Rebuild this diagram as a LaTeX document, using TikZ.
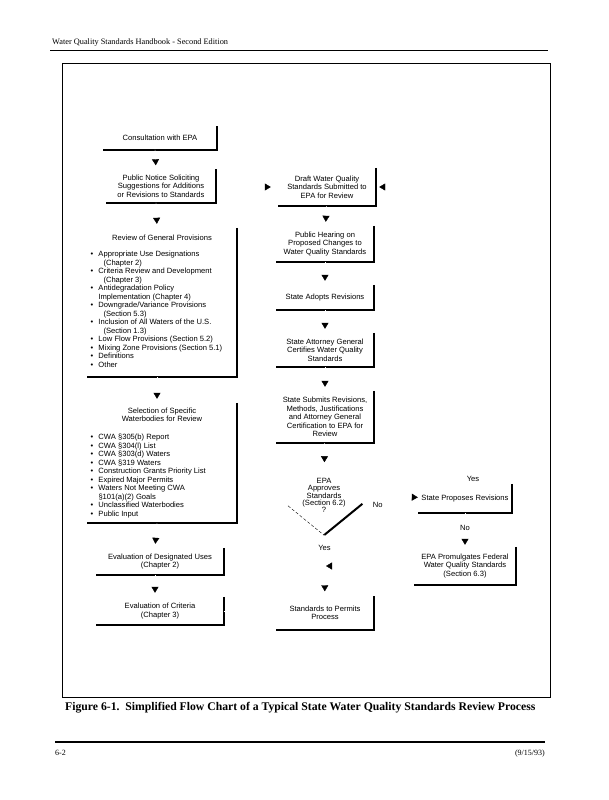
\documentclass[tikz,border=0pt]{standalone}
\usepackage{fontspec}
\setmainfont{Liberation Serif}
\setsansfont{Liberation Sans}
\usetikzlibrary{shapes.geometric, arrows.meta, calc}

\begin{document}
\begin{tikzpicture}[x=1pt, y=-1pt,
  sbox/.style={inner sep=2pt, align=center, font=\sffamily\fontsize{7.6}{8.5}\selectfont},
  lbox/.style={inner sep=3pt, font=\sffamily\fontsize{7.6}{8.5}\selectfont},
  decbox/.style={diamond, inner sep=0pt, minimum width=98, minimum height=80, align=center, font=\sffamily\fontsize{7.6}{6.9}\selectfont},
  shadow/.style={line width=1.6pt},
  flow/.style={draw=white, shorten >=4pt, -{Triangle[color=black, width=7pt, length=6pt]}},
  lbl/.style={font=\sffamily\fontsize{7.6}{8.5}\selectfont, inner sep=1pt}
]
  \useasboundingbox (0,0) rectangle (608,800);

  \node[anchor=base west, inner sep=0pt, font=\fontsize{8.3}{9}\selectfont] (header) at (52,45) {Water Quality Standards Handbook - Second Edition};
  \draw[line width=1pt] (50,51) -- (548,51);
  \draw[line width=0.8pt] (62,63) rectangle (550,697);

  % left column
  \node[sbox, minimum width=113, minimum height=23] (consult) at (160,138) {Consultation with EPA};
  \node[sbox, minimum width=110, minimum height=33] (notice) at (161,186) {Public Notice Soliciting\\Suggestions for Additions\\or Revisions to Standards};
  \node[lbox, minimum width=149, minimum height=149] (review) at (162,302.5) {%
    \begin{tabular}{@{}p{8pt}@{}p{135pt}@{}}
      \multicolumn{2}{@{}c@{}}{Review of General Provisions}\\[7.5pt]
      \textbullet & Appropriate Use Designations\\
      & \hspace{5pt}(Chapter 2)\\
      \textbullet & Criteria Review and Development\\
      & \hspace{5pt}(Chapter 3)\\
      \textbullet & Antidegradation Policy\\
      & Implementation (Chapter 4)\\
      \textbullet & Downgrade/Variance Provisions\\
      & \hspace{5pt}(Section 5.3)\\
      \textbullet & Inclusion of All Waters of the U.S.\\
      & \hspace{5pt}(Section 1.3)\\
      \textbullet & Low Flow Provisions (Section 5.2)\\
      \textbullet & Mixing Zone Provisions (Section 5.1)\\
      \textbullet & Definitions\\
      \textbullet & Other
    \end{tabular}};
  \node[lbox, minimum width=149, minimum height=120] (select) at (162,463) {%
    \begin{tabular}{@{}p{8pt}@{}p{135pt}@{}}
      \multicolumn{2}{@{}c@{}}{Selection of Specific}\\
      \multicolumn{2}{@{}c@{}}{Waterbodies for Review}\\[9.5pt]
      \textbullet & CWA §305(b) Report\\
      \textbullet & CWA §304(l) List\\
      \textbullet & CWA §303(d) Waters\\
      \textbullet & CWA §319 Waters\\
      \textbullet & Construction Grants Priority List\\
      \textbullet & Expired Major Permits\\
      \textbullet & Waters Not Meeting CWA\\
      & §101(a)(2) Goals\\
      \textbullet & Unclassified Waterbodies\\
      \textbullet & Public Input
    \end{tabular}};
  \node[sbox, minimum width=127, minimum height=27] (evaluses) at (160,561.5) {Evaluation of Designated Uses\\(Chapter 2)};
  \node[sbox, minimum width=127, minimum height=28] (evalcrit) at (160,611) {Evaluation of Criteria\\(Chapter 3)};

  % right column
  \node[sbox, minimum width=98, minimum height=38] (draft) at (327,187) {Draft Water Quality\\Standards Submitted to\\EPA for Review};
  \node[sbox, minimum width=98, minimum height=36] (hearing) at (325,244) {Public Hearing on\\Proposed Changes to\\Water Quality Standards};
  \node[sbox, minimum width=98, minimum height=25] (adopts) at (325,297.5) {State Adopts Revisions};
  \node[sbox, minimum width=98, minimum height=34] (attorney) at (325,350) {State Attorney General\\Certifies Water Quality\\Standards};
  \node[sbox, minimum width=98, minimum height=52] (submits) at (325,417) {State Submits Revisions,\\Methods, Justifications\\and Attorney General\\Certification to EPA for\\Review};
  \node[decbox] (dec) at (324,495) {EPA\\Approves\\Standards\\(Section 6.2)\\?};
  \node[sbox, minimum width=98, minimum height=33] (permits) at (325,613) {Standards to Permits\\Process};

  % far right
  \node[sbox, minimum width=94, minimum height=29] (proposes) at (465,498.5) {State Proposes Revisions};
  \node[sbox, minimum width=102, minimum height=38] (promulg) at (465,566) {EPA Promulgates Federal\\Water Quality Standards\\(Section 6.3)};

  \foreach \n in {consult, notice, review, select, evaluses, evalcrit, draft, hearing, adopts, attorney, submits, permits, proposes, promulg}
    \draw[shadow] (\n.north east) -- (\n.south east) -- (\n.south west);
  \draw[line width=0.4pt, densely dashed] ($(dec.south)!0.73!(dec.west)$) -- (dec.south);
  \draw[line width=2pt] (dec.south) -- ($(dec.south)!0.78!(dec.east)$);

  \foreach \a/\b in {consult/notice, notice/review, review/select, select/evaluses, evaluses/evalcrit}
    \draw[flow] ([xshift=-5pt]\a.south) -- ([xshift=-5pt]\b.north);
  \foreach \a/\b in {draft/hearing, hearing/adopts, adopts/attorney, attorney/submits}
    \draw[flow] (\a) -- (\b);
  \draw[flow, shorten >=-7pt] (submits) -- (dec);
  \draw[flow, shorten >=7pt] (evalcrit.east) -- ++(25,0) |- (draft.west);
  \draw[flow, shorten >=3pt] (proposes.north) |- node[lbl, at start, above=1pt, xshift=8pt] {Yes} (draft.east);
  \draw[flow, shorten >=0pt] (dec) -- node[lbl, pos=0.13, below=5pt] {No} (proposes);
  \draw[flow, shorten >=2pt] (proposes) -- node[lbl, pos=0.45] {No} (promulg);
  \draw[flow, shorten >=5pt] (dec) -- node[lbl, pos=0.21] {Yes} (permits);
  \draw[flow, shorten >=2pt] (promulg.west) -- (promulg.west -| dec.south);

  \node[anchor=base west, inner sep=0pt, font=\bfseries\fontsize{11.7}{13}\selectfont] (caption) at (65,710) {Figure 6-1.\ \ Simplified Flow Chart of a Typical State Water Quality Standards Review Process};
  \draw[line width=1.2pt] (55,742) -- (545,742);
  \node[anchor=base west, inner sep=0pt, font=\fontsize{8}{9}\selectfont] (pagenum) at (55,755) {6-2};
  \node[anchor=base east, inner sep=0pt, font=\fontsize{8}{9}\selectfont] (date) at (545,755) {(9/15/93)};
\end{tikzpicture}
\end{document}
